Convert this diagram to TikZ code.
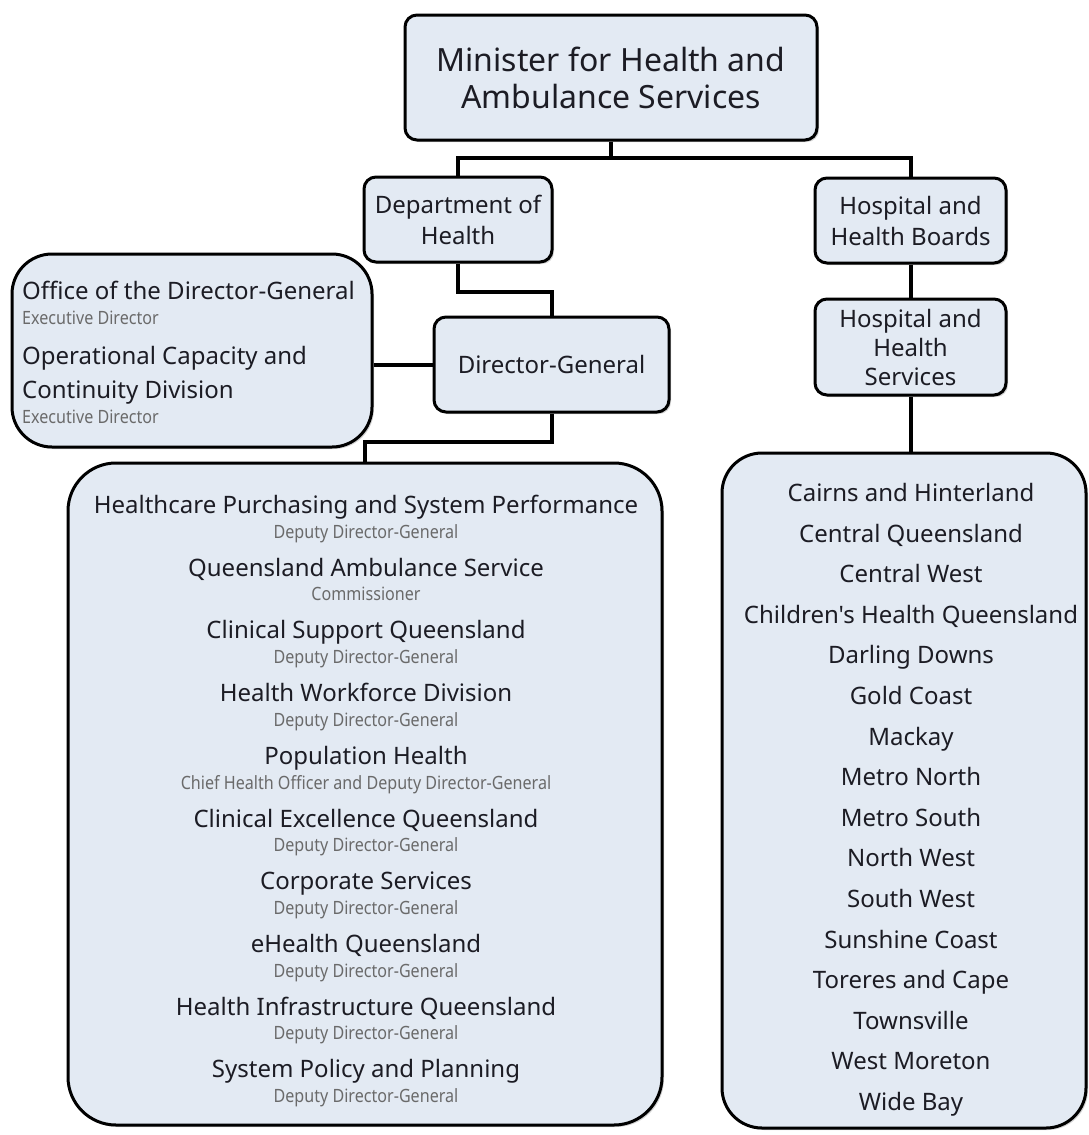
\documentclass[tikz,border=0pt]{standalone}
\usepackage{fontspec}
\setmainfont{Noto Sans}[Ligatures=TeXOff]
\newfontfamily\rolefont[FakeStretch=0.88]{Noto Sans}
\usetikzlibrary{shadows}

\definecolor{boxfill}{HTML}{E3EAF3}
\definecolor{inktext}{HTML}{1C1C24}
\definecolor{roletext}{HTML}{6A6A6A}

\tikzset{
  orgbox/.style={draw, line width=3pt, fill=boxfill, rounded corners=12pt,
    drop shadow={opacity=0.35, shadow xshift=2pt, shadow yshift=-2pt},
    text=inktext, align=center, inner sep=0pt},
  link/.style={line width=4pt},
  unit/.style={text=inktext, font=\fontsize{24}{29}\selectfont, inner sep=0pt,
    text height=17pt, text depth=6pt},
  role/.style={text=roletext, font=\rolefont\fontsize{18.3}{22}\selectfont, inner sep=0pt,
    text height=13pt, text depth=4.5pt},
}

\begin{document}
\begin{tikzpicture}[x=1pt, y=-1pt]
    \useasboundingbox (0,0) rectangle (1089,1135);

    % Cajas superiores
    \node[orgbox, minimum width=412pt, minimum height=125pt,
          font=\fontsize{32}{37}\selectfont] (minister) at (611,77.5)
          {Minister for Health and\\Ambulance Services};
    \node[orgbox, minimum width=188pt, minimum height=85pt,
          font=\fontsize{24}{31}\selectfont] (dept) at (458,219.5)
          {Department of\\Health};
    \node[orgbox, minimum width=191pt, minimum height=85pt,
          font=\fontsize{24}{31}\selectfont] (hhb) at (910.5,220.5)
          {Hospital and\\Health Boards};
    \node[orgbox, minimum width=235pt, minimum height=95pt,
          font=\fontsize{24}{31}\selectfont] (dg) at (551.5,364.5)
          {Director-General};
    \node[orgbox, minimum width=191pt, minimum height=96pt,
          font=\fontsize{24}{29}\selectfont] (hhs) at (910.5,347)
          {Hospital and\\Health\\Services};

    % Cajas grandes
    \node[orgbox, rounded corners=40pt, minimum width=360pt, minimum height=193pt]
          (office) at (192,350.5) {};
    \node[orgbox, rounded corners=48pt, minimum width=594pt, minimum height=662pt]
          (units) at (365,794) {};
    \node[orgbox, rounded corners=40pt, minimum width=364pt, minimum height=675pt]
          (regions) at (904,790.5) {};

    % Conectores
    \coordinate (split) at (611,158);
    \draw[link] (minister.south) -- (split);
    \draw[link] (dept.north) |- (split) -| (hhb.north);
    \draw[link] (dept.south) -- ++(0,28) -| (dg.north);
    \draw[link] (dg.west) -- (dg.west -| office.east);
    \draw[link] (dg.south) -- ++(0,28) -| (units.north);
    \draw[link] (hhb.south) -- (hhs.north);
    \draw[link] (hhs.south) -- (hhs.south |- regions.north);

    % Oficina del Director-General
    \node[unit, anchor=west] (o1) at (22,294) {Office of the Director-General};
    \node[role, anchor=west] (o2) at (22,320) {Executive Director};
    \node[unit, anchor=west] (o3) at (22,359) {Operational Capacity and};
    \node[unit, anchor=west] (o4) at (22,393) {Continuity Division};
    \node[role, anchor=west] (o5) at (22,419) {Executive Director};

    % Divisiones del departamento
    \foreach \name/\head [count=\i] in {
        Healthcare Purchasing and System Performance/Deputy Director-General,
        Queensland Ambulance Service/Commissioner,
        Clinical Support Queensland/Deputy Director-General,
        Health Workforce Division/Deputy Director-General,
        Population Health/Chief Health Officer and Deputy Director-General,
        Clinical Excellence Queensland/Deputy Director-General,
        Corporate Services/Deputy Director-General,
        eHealth Queensland/Deputy Director-General,
        Health Infrastructure Queensland/Deputy Director-General,
        System Policy and Planning/Deputy Director-General}
    {
        \node[unit] (u\i) at (366, 508+62.7*\i-62.7) {\name};
        \node[role] (r\i) at (366, 534+62.7*\i-62.7) {\head};
    }

    % Servicios de salud
    \foreach \name [count=\i] in {Cairns and Hinterland, Central Queensland,
        Central West, Children's Health Queensland, Darling Downs, Gold Coast,
        Mackay, Metro North, Metro South, North West, South West,
        Sunshine Coast, Toreres and Cape, Townsville, West Moreton, Wide Bay}
        \node[unit] (h\i) at (911, 496+40.6*\i-40.6) {\name};
\end{tikzpicture}
\end{document}
